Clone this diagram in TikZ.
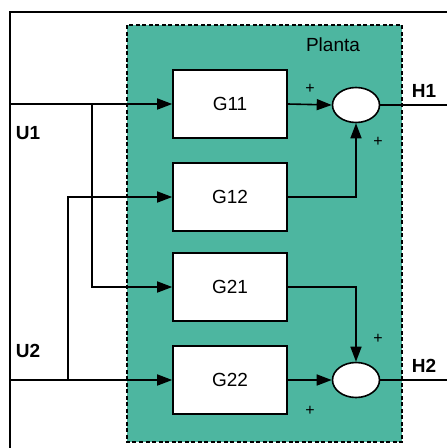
\documentclass[tikz,border=0pt]{standalone}
\usepackage{fontspec}
\setmainfont{Liberation Sans}
\usetikzlibrary{positioning, arrows.meta, shapes.geometric}
\definecolor{plantgreen}{HTML}{4DB6A0}

\begin{document}
\begin{tikzpicture}[x=1pt, y=-1pt,
    block/.style={draw, line width=1.6pt, fill=white, minimum width=114pt, minimum height=68pt, font=\fontsize{19}{22}\selectfont},
    sumnode/.style={draw, ellipse, line width=1.6pt, fill=white, minimum width=47pt, minimum height=35pt, inner sep=0pt},
    signal/.style={draw, line width=1.6pt},
    flow/.style={signal, -{Triangle[length=15pt, width=11pt]}},
    lbl/.style={font=\bfseries\fontsize{19}{22}\selectfont},
    sign/.style={font=\fontsize{16}{18}\selectfont, inner sep=0pt}
]
\useasboundingbox (0,0) rectangle (447,448);
% outer frame and plant area
\draw[line width=1.6pt] (10,448) -- (10,12) -- (447,12);
\draw[fill=plantgreen, dash pattern=on 4pt off 2.5pt, line width=1.3pt] (127,25) rectangle (402,442);
\node[font=\fontsize{19}{22}\selectfont] (planta) at (333,45) {Planta};

% transfer blocks
\node[block] (g11) at (230,104) {G11};
\node[block] (g12) at (230,197) {G12};
\node[block] (g21) at (230,287) {G21};
\node[block] (g22) at (230,380) {G22};

% summing junctions
\node[sumnode] (s1) at (356,105) {};
\node[sumnode] (s2) at (356,380) {};

% inputs
\coordinate (u1) at (10,104);
\coordinate (u2) at (10,380);
\coordinate (b1) at (92,104);
\coordinate (b2) at (68,380);
\draw[flow] (u1) -- (g11.west);
\draw[flow] (b1) |- (g21.west);
\draw[flow] (u2) -- (g22.west);
\draw[flow] (b2) |- (g12.west);
\node[lbl] (lu1) at (28,133) {U1};
\node[lbl] (lu2) at (28,351) {U2};

% to the junctions
\draw[flow] (g11.east) -- (s1.west);
\draw[flow] (g12.east) -| (s1.south);
\draw[flow] (g21.east) -| (s2.north);
\draw[flow] (g22.east) -- (s2.west);
\node[sign] at (310,89) {+};
\node[sign] at (378,142) {+};
\node[sign] at (378,339) {+};
\node[sign] at (310,411) {+};

% outputs
\coordinate (h1) at (447,105);
\coordinate (h2) at (447,380);
\draw[signal] (s1.east) -- (h1);
\draw[signal] (s2.east) -- (h2);
\node[lbl] (lh1) at (424,91) {H1};
\node[lbl] (lh2) at (424,366) {H2};
\end{tikzpicture}
\end{document}
